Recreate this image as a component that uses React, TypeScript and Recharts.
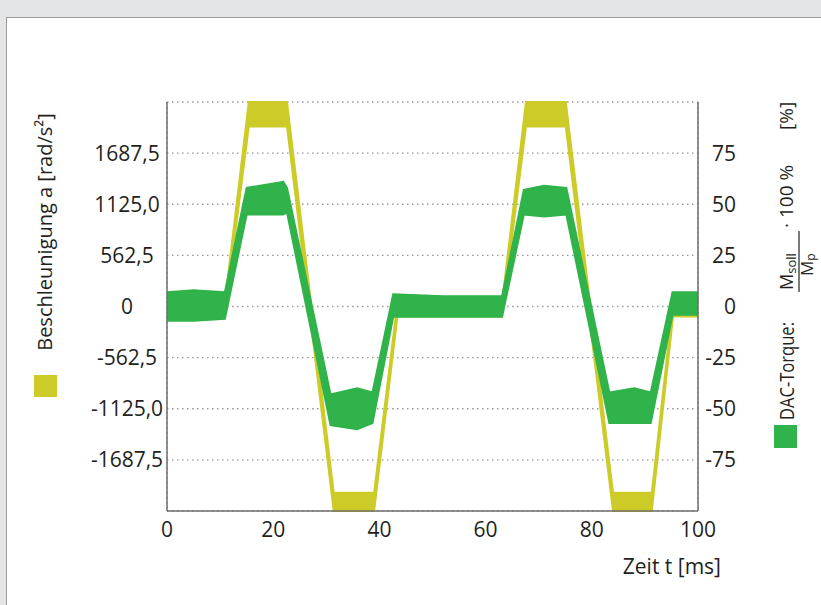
import {
  ComposedChart,
  Area,
  XAxis,
  YAxis,
  CartesianGrid,
} from "recharts";

// time axis (ms)
const timeTicks = [0, 20, 40, 60, 80, 100];
const gridTicks = [0, 10, 20, 30, 40, 50, 60, 70, 80, 90, 100];

// left axis: Beschleunigung a [rad/s²]
const accelTicks = [-1687.5, -1125, -562.5, 0, 562.5, 1125, 1687.5];
const accelDomain = [-2250, 2250];

// right axis: DAC-Torque [%]
const torqueTicks = [-75, -50, -25, 0, 25, 50, 75];
const torqueDomain = [-100, 100];

// acceleration band (lower / upper edge of the noisy trace), rad/s²
const accelTime = [0, 10.9, 15.4, 22.6, 31.4, 39.0, 43.4, 63.1, 67.6, 75.1, 84.0, 91.3, 95.3, 100];
const accelLow = [-90, -90, 1980, 1980, -2250, -2250, -110, -110, 1980, 1980, -2250, -2250, -110, -110];
const accelHigh = [45, 45, 2250, 2250, -2050, -2050, 45, 45, 2250, 2250, -2050, -2050, 45, 45];

// torque band (lower / upper edge), %
const torqueTime = [0, 5, 10.9, 15.0, 21.9, 22.6, 30.8, 35.8, 38.7, 42.6, 52, 63.1, 67.2, 71, 75.2, 83.3, 88, 91.1, 95.2, 100];
const torqueLow = [-7, -7, -6, 45, 45, 46, -58, -60, -57, -5, -5, -5, 45, 44, 45, -57, -57, -57, -4, -4];
const torqueHigh = [7, 8, 7, 58, 61, 58, -43, -40, -42, 6, 5, 5, 57, 59, 58, -42, -40, -42, 7, 7];

const accelData = accelTime.map((t, i) => ({ t, lo: accelLow[i], hi: accelHigh[i] }));
const torqueData = torqueTime.map((t, i) => ({ t, lo: torqueLow[i], hi: torqueHigh[i] }));

const YELLOW = "#cdcb28";
const GREEN = "#2fb34a";
const FONT = "'Open Sans', sans-serif";
const TEXT = "#231f20";
const BORDER = "#6e6e6e";

const fmtAccel = (v: number) => (v === 0 ? "0" : v.toFixed(1).replace(".", ","));

function LeftTick(props: any) {
  const { x, y, payload } = props;
  return (
    <text x={x - 40} y={y} dy={7.5} textAnchor="middle" fontFamily={FONT} fontSize={21} fill={TEXT}>
      {fmtAccel(payload.value)}
    </text>
  );
}

function RightTick(props: any) {
  const { x, y, payload } = props;
  return (
    <text x={x + 38} y={y} dy={7.5} textAnchor="end" fontFamily={FONT} fontSize={21} fill={TEXT}>
      {payload.value}
    </text>
  );
}

function Labels() {
  return (
    <svg width={821} height={605} style={{ position: "absolute", left: 0, top: 0, pointerEvents: "none" }}>
      <text
        transform="translate(52,232) rotate(-90)"
        textAnchor="middle"
        fontFamily={FONT}
        fontSize={20}
        fill={TEXT}
      >
        Beschleunigung a [rad/s²]
      </text>
      <rect x={34} y={375} width={23} height={22} fill={YELLOW} />

      <g transform="rotate(-90)" fontFamily={FONT} fill={TEXT}>
        <text x={-420} y={794} fontSize={20} textLength={98} lengthAdjust="spacingAndGlyphs">
          DAC-Torque:
        </text>
        <text x={-290} y={793} fontSize={18}>
          M<tspan fontSize={13} dy={3}>soll</tspan>
        </text>
        <line x1={-292} y1={799} x2={-231} y2={799} stroke={TEXT} strokeWidth={1.2} />
        <text x={-276} y={813} fontSize={17}>
          M<tspan fontSize={12} dy={2}>p</tspan>
        </text>
        <text x={-228} y={793} fontSize={19}>· 100 %</text>
        <text x={-130} y={793} fontSize={19}>[%]</text>
      </g>
      <rect x={774} y={425} width={23} height={23} fill={GREEN} />

      <text x={721} y={574} textAnchor="end" fontFamily={FONT} fontSize={21} fill={TEXT}>
        Zeit t [ms]
      </text>
    </svg>
  );
}

export default function App() {
  return (
    <div style={{ position: "absolute", left: 0, top: 0, width: 821, height: 605, background: "#e4e5e7", overflow: "hidden" }}>
      <div
        style={{
          position: "absolute",
          left: 6,
          top: 17,
          width: 830,
          height: 600,
          background: "#fff",
          borderLeft: "1.5px solid #9a9a9a",
          borderTop: "1.5px solid #9a9a9a",
        }}
      />
      <div style={{ position: "absolute", left: 0, top: 0 }}>
        <ComposedChart width={821} height={605} margin={{ top: 102, right: 0, bottom: 0, left: 0 }}>
          <XAxis
            xAxisId="top"
            orientation="top"
            type="number"
            dataKey="t"
            domain={[0, 100]}
            ticks={gridTicks}
            tick={false}
            tickLine={false}
            height={0}
            axisLine={{ stroke: BORDER, strokeWidth: 1.5 }}
          />
          <XAxis
            xAxisId="main"
            type="number"
            dataKey="t"
            domain={[0, 100]}
            ticks={timeTicks}
            tickLine={false}
            tickSize={0}
            tickMargin={11}
            height={94}
            axisLine={{ stroke: BORDER, strokeWidth: 1.5 }}
            tick={{ fontFamily: FONT, fontSize: 21, fill: TEXT }}
          />
          <YAxis
            yAxisId="left"
            type="number"
            domain={accelDomain}
            ticks={accelTicks}
            width={167}
            tickLine={false}
            tickSize={0}
            tickMargin={0}
            axisLine={{ stroke: BORDER, strokeWidth: 1.5 }}
            tick={<LeftTick />}
          />
          <YAxis
            yAxisId="right"
            orientation="right"
            type="number"
            domain={torqueDomain}
            ticks={torqueTicks}
            width={123}
            tickLine={false}
            tickSize={0}
            tickMargin={0}
            axisLine={{ stroke: BORDER, strokeWidth: 1.5 }}
            tick={<RightTick />}
          />
          <CartesianGrid
            xAxisId="top"
            yAxisId="left"
            stroke="#9a9a9a"
            strokeWidth={1.3}
            strokeDasharray="1.5 3.5"
          />
          <Area
            xAxisId="main"
            yAxisId="left"
            data={accelData}
            dataKey={(d: any) => [d.lo, d.hi]}
            type="linear"
            stroke={YELLOW}
            strokeWidth={2}
            fill={YELLOW}
            fillOpacity={1}
            isAnimationActive={false}
          />
          <Area
            xAxisId="main"
            yAxisId="right"
            data={torqueData}
            dataKey={(d: any) => [d.lo, d.hi]}
            type="linear"
            stroke={GREEN}
            strokeWidth={2}
            fill={GREEN}
            fillOpacity={1}
            isAnimationActive={false}
          />
        </ComposedChart>
      </div>
      <Labels />
    </div>
  );
}
